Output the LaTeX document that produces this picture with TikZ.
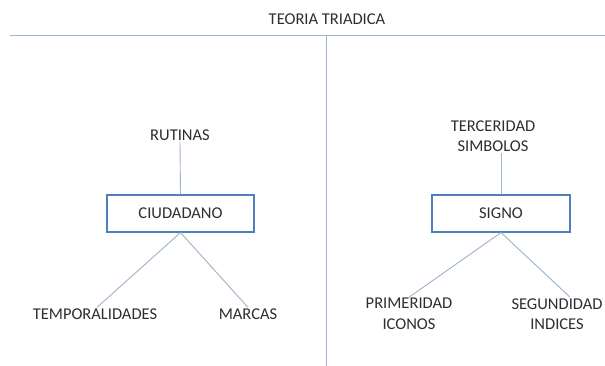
\documentclass[tikz,border=0pt]{standalone}
\usepackage{fontspec}
\setmainfont{Carlito}
\definecolor{txt}{HTML}{2E2E2E}
\definecolor{lineblue}{HTML}{9DB3CE}
\definecolor{boxblue}{HTML}{4F7FBD}
\begin{document}
\begin{tikzpicture}[x=1pt,y=-1pt,
  lbl/.style={text=txt,font=\fontsize{16.5}{20.5}\selectfont,align=center,inner sep=1pt},
  boxnode/.style={lbl,draw=boxblue,line width=1.1pt,minimum height=37pt,inner sep=0pt},
  conn/.style={draw=lineblue,line width=0.9pt}]
\useasboundingbox (0,0) rectangle (605,366);
\fill[white] (0,0) rectangle (605,366);
% title and frame lines
\node[lbl] (title) at (327,19) {TEORIA TRIADICA};
\coordinate (hl) at (10,35);
\coordinate (hr) at (605,35);
\coordinate (vt) at (326,35);
\coordinate (vb) at (326,366);
\draw[conn] (hl) -- (hr);
\draw[conn] (vt) -- (vb);
% left
\node[lbl] (rut) at (180,135) {RUTINAS};
\node[boxnode,minimum width=147pt] (ciu) at (180.5,213.5) {CIUDADANO};
\node[lbl] (temp) at (95,314) {TEMPORALIDADES};
\node[lbl] (marc) at (248,314) {MARCAS};
\draw[conn] (rut.south) -- (ciu.north);
\draw[conn] (ciu.south) -- ([xshift=2pt]temp.north);
\draw[conn] (ciu.south) -- (marc.north);
% right
\node[lbl] (terc) at (493,136) {TERCERIDAD\\SIMBOLOS};
\node[boxnode,minimum width=138pt] (sig) at (501,213.5) {SIGNO};
\node[lbl] (prim) at (409,314) {PRIMERIDAD\\ICONOS};
\node[lbl] (segu) at (557,314) {SEGUNDIDAD\\INDICES};
\draw[conn] (sig.north) -- (sig.north |- terc.south);
\draw[conn] (sig.south) -- (prim.north);
\draw[conn] (sig.south) -- ([xshift=13pt]segu.north);
\end{tikzpicture}
\end{document}
